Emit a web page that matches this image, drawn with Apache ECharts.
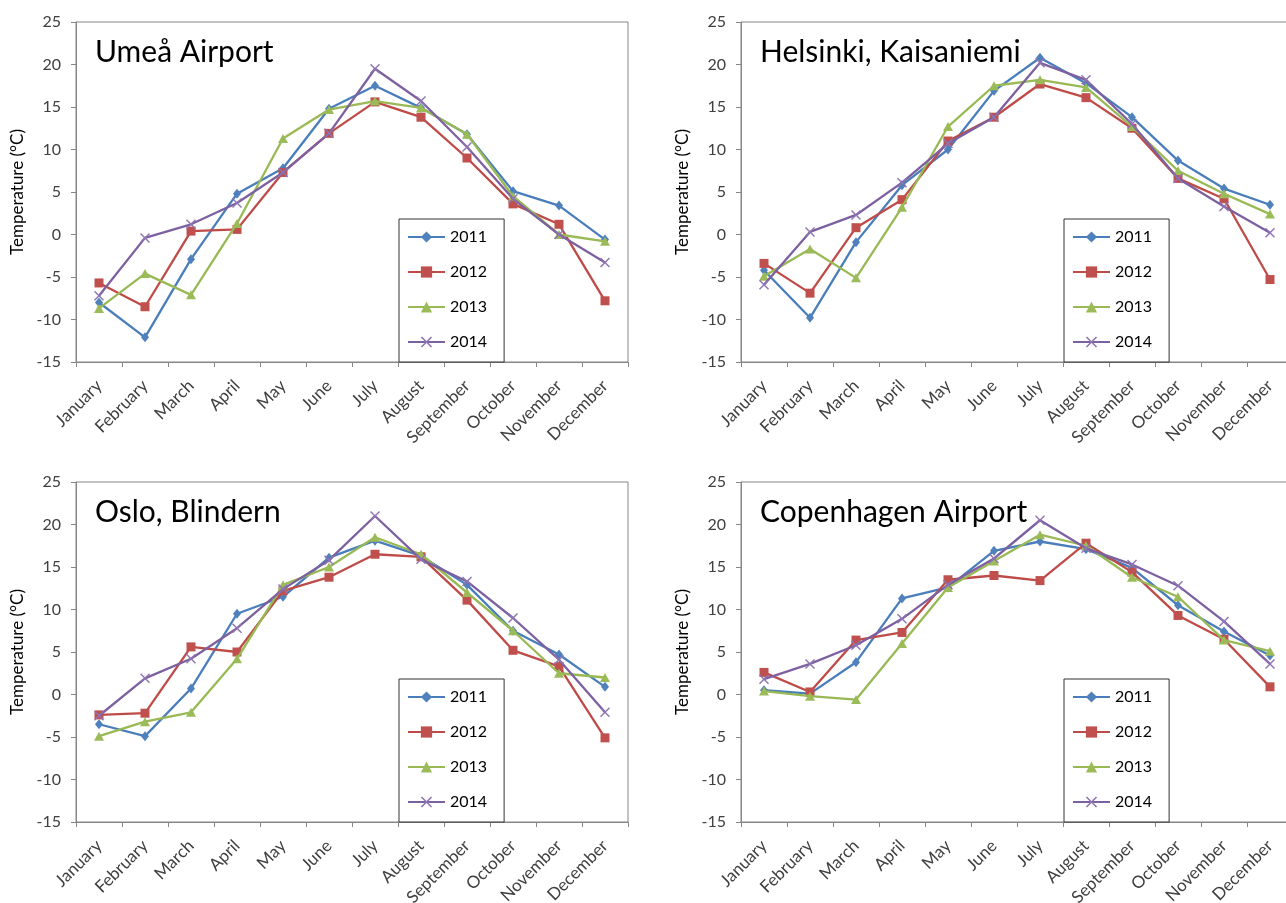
<!DOCTYPE html>
<html>
<head>
<meta charset="utf-8">
<script src="https://cdn.jsdelivr.net/npm/echarts@6/dist/echarts.min.js"></script>
<style>
html,body{margin:0;padding:0;background:#fff;}
#c{width:1286px;height:903px;}
</style>
</head>
<body>
<div id="c"></div>
<script>
const months = ['January','February','March','April','May','June','July','August','September','October','November','December'];
const years = ['2011','2012','2013','2014'];
const stations = ['Umeå Airport','Helsinki, Kaisaniemi','Oslo, Blindern','Copenhagen Airport'];
const yTicks = [-15,-10,-5,0,5,10,15,20,25];

const umea2011 = [-8.0,-12.1,-2.9,4.8,7.8,14.8,17.5,14.9,11.8,5.1,3.4,-0.6];
const umea2012 = [-5.7,-8.5,0.4,0.6,7.3,11.9,15.6,13.8,9.0,3.6,1.2,-7.8];
const umea2013 = [-8.7,-4.6,-7.1,1.3,11.3,14.7,15.7,14.9,11.8,4.5,0.0,-0.8];
const umea2014 = [-7.2,-0.4,1.2,3.7,7.3,11.9,19.5,15.7,10.3,4.2,0.0,-3.3];

const helsinki2011 = [-4.2,-9.8,-0.9,5.8,10.0,16.9,20.8,17.8,13.8,8.7,5.4,3.5];
const helsinki2012 = [-3.4,-6.9,0.8,4.1,11.0,13.8,17.7,16.1,12.5,6.6,4.2,-5.3];
const helsinki2013 = [-4.9,-1.7,-5.1,3.2,12.7,17.5,18.2,17.3,12.7,7.5,4.8,2.4];
const helsinki2014 = [-5.9,0.3,2.3,6.1,10.7,13.8,20.2,18.2,13.0,6.6,3.3,0.2];

const oslo2011 = [-3.5,-4.9,0.7,9.5,11.5,16.1,18.1,16.3,12.9,7.5,4.7,0.9];
const oslo2012 = [-2.4,-2.2,5.6,5.0,12.2,13.8,16.5,16.2,11.1,5.2,3.3,-5.1];
const oslo2013 = [-4.9,-3.2,-2.1,4.2,12.9,15.0,18.5,16.5,12.0,7.5,2.5,2.0];
const oslo2014 = [-2.5,1.9,4.2,7.8,12.4,15.8,21.0,15.9,13.3,9.0,4.1,-2.1];

const cph2011 = [0.5,0.1,3.8,11.3,12.6,16.9,18.0,17.1,14.9,10.5,7.4,4.6];
const cph2012 = [2.6,0.3,6.4,7.3,13.5,14.0,13.4,17.8,14.4,9.3,6.5,0.9];
const cph2013 = [0.4,-0.2,-0.6,6.0,12.6,15.7,18.8,17.5,13.8,11.5,6.4,5.1];
const cph2014 = [1.8,3.6,5.8,8.9,12.9,16.0,20.5,17.2,15.3,12.8,8.6,3.6];

const stationData = [
  [umea2011, umea2012, umea2013, umea2014],
  [helsinki2011, helsinki2012, helsinki2013, helsinki2014],
  [oslo2011, oslo2012, oslo2013, oslo2014],
  [cph2011, cph2012, cph2013, cph2014]
];

const FONT = 'Lato, "Open Sans", sans-serif';
const lineColors = ['#4A7EBB','#BE4B48','#98B954','#7D60A0'];
const markColors = ['#4F81BD','#C0504D','#9BBB59','#8E74B2'];
const xSym = 'path://M0,1 L1,0 L5,4 L9,0 L10,1 L6,5 L10,9 L9,10 L5,6 L1,10 L0,9 L4,5 Z';
const symbols = ['diamond','rect','triangle',xSym];
const symSizes = [[8,10],9,[10,9],10];

const panels = [
  {left:76, top:22},
  {left:741, top:22},
  {left:76, top:482},
  {left:741, top:482}
];
const W = 552, H = 340;

const grids = [], xAxes = [], yAxes = [], titles = [], legends = [], series = [];
panels.forEach((p, i) => {
  grids.push({left:p.left, top:p.top, width:W, height:H, show:true, borderColor:'#868686', borderWidth:1,
    backgroundColor:'transparent', containLabel:false, outerBoundsMode:'none'});
  xAxes.push({
    type:'category', gridIndex:i, data:months, boundaryGap:true,
    axisLine:{onZero:false, lineStyle:{color:'#868686', width:1}},
    axisTick:{show:true, alignWithLabel:false, length:5, lineStyle:{color:'#868686'}},
    axisLabel:{interval:0, rotate:45, fontSize:17, color:'#404040', fontFamily:FONT, margin:21},
    splitLine:{show:false}
  });
  yAxes.push({
    type:'value', gridIndex:i, min:yTicks[0], max:yTicks[yTicks.length-1], interval:5,
    name:'Temperature (°C)', nameLocation:'middle', nameGap:50, nameRotate:90,
    nameTextStyle:{fontSize:17, color:'#000', fontFamily:FONT},
    axisLine:{show:true, lineStyle:{color:'#868686', width:1}},
    axisTick:{show:true, length:5, lineStyle:{color:'#868686'}},
    axisLabel:{fontSize:16, color:'#404040', fontFamily:FONT, margin:15},
    splitLine:{show:false}
  });
  titles.push({
    text:stations[i], left:p.left+19, top:p.top+15, padding:0,
    textStyle:{fontSize:30, fontWeight:'normal', color:'#000', fontFamily:FONT}
  });
  legends.push({
    data:years, orient:'vertical', left:p.left+323, top:p.top+197,
    padding:[10,17,12,8], itemGap:19, itemWidth:37, itemHeight:14,
    borderColor:'#333', borderWidth:1, backgroundColor:'#fff',
    textStyle:{fontSize:16, color:'#000', fontFamily:FONT},
    selectedMode:false
  });
  stationData[i].forEach((vals, k) => {
    series.push({
      name:years[k], type:'line', xAxisIndex:i, yAxisIndex:i, data:vals,
      symbol:symbols[k], symbolSize:symSizes[k], showAllSymbol:true,
      lineStyle:{color:lineColors[k], width:2.3},
      itemStyle:{color:markColors[k], borderWidth:0},
      emphasis:{disabled:true}, animation:false, z:2+k
    });
  });
});

const chart = echarts.init(document.getElementById('c'), null, {renderer:'canvas'});
chart.setOption({
  backgroundColor:'#fff', animation:false,
  title:titles, grid:grids, xAxis:xAxes, yAxis:yAxes, legend:legends, series:series,
  textStyle:{fontFamily:FONT}
});
</script>
</body>
</html>
